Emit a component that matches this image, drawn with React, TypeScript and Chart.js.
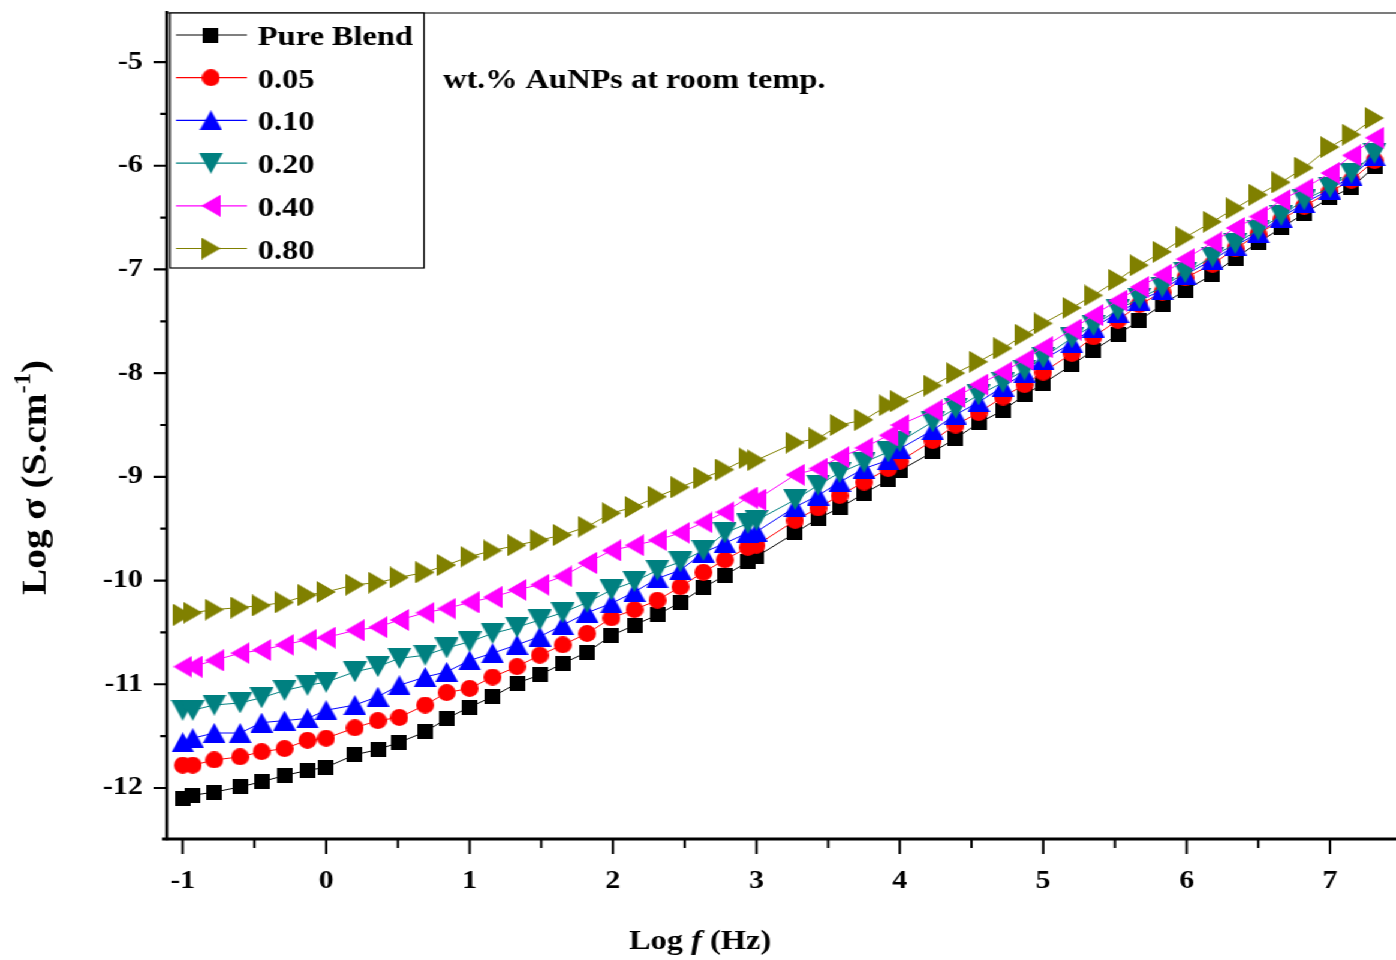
import React, { useEffect, useRef } from "react";
import { Chart, registerables } from "chart.js";

Chart.register(...registerables);

// ---------------- data ----------------
const logF = [
  -1, -0.93, -0.78, -0.6, -0.45, -0.29, -0.13, 0, 0.2, 0.36,
  0.51, 0.69, 0.84, 1.0, 1.16, 1.33, 1.49, 1.65, 1.82, 1.99,
  2.15, 2.31, 2.47, 2.63, 2.78, 2.94, 3.0, 3.27, 3.43, 3.58,
  3.75, 3.92, 4.0, 4.23, 4.39, 4.55, 4.72, 4.87, 5.0, 5.2,
  5.35, 5.52, 5.67, 5.83, 5.99, 6.18, 6.34, 6.5, 6.66, 6.82,
  7.0, 7.15, 7.31,
];

const pureBlend = [
  -12.1, -12.07, -12.04, -11.99, -11.94, -11.88, -11.83, -11.8, -11.68, -11.63,
  -11.56, -11.46, -11.33, -11.22, -11.12, -10.99, -10.91, -10.8, -10.69, -10.53,
  -10.43, -10.33, -10.21, -10.07, -9.95, -9.82, -9.77, -9.54, -9.4, -9.3,
  -9.16, -9.03, -8.94, -8.76, -8.63, -8.48, -8.36, -8.21, -8.1, -7.92,
  -7.78, -7.63, -7.49, -7.34, -7.2, -7.05, -6.89, -6.74, -6.6, -6.46,
  -6.31, -6.21, -6.01,
];

const au005 = [
  -11.78, -11.78, -11.73, -11.7, -11.65, -11.62, -11.54, -11.52, -11.42, -11.35,
  -11.32, -11.2, -11.08, -11.04, -10.93, -10.83, -10.72, -10.62, -10.51, -10.36,
  -10.28, -10.19, -10.06, -9.92, -9.8, -9.68, -9.66, -9.42, -9.3, -9.18,
  -9.05, -8.92, -8.85, -8.65, -8.5, -8.38, -8.23, -8.11, -7.99, -7.81,
  -7.65, -7.49, -7.34, -7.22, -7.08, -6.95, -6.8, -6.66, -6.52, -6.39,
  -6.25, -6.14, -5.95,
];

const au010 = [
  -11.56, -11.52, -11.47, -11.47, -11.37, -11.35, -11.33, -11.25, -11.2, -11.12,
  -11.01, -10.93, -10.88, -10.77, -10.7, -10.62, -10.54, -10.43, -10.31, -10.22,
  -10.11, -9.98, -9.9, -9.73, -9.64, -9.54, -9.53, -9.29, -9.18, -9.05,
  -8.92, -8.84, -8.73, -8.55, -8.4, -8.28, -8.13, -8.0, -7.87, -7.71,
  -7.56, -7.42, -7.3, -7.2, -7.05, -6.91, -6.77, -6.65, -6.5, -6.36,
  -6.23, -6.1, -5.91,
];

const au020 = [
  -11.25, -11.25, -11.2, -11.18, -11.13, -11.06, -11.01, -10.98, -10.88, -10.83,
  -10.75, -10.72, -10.65, -10.59, -10.51, -10.45, -10.38, -10.31, -10.21, -10.09,
  -10.01, -9.9, -9.82, -9.71, -9.54, -9.45, -9.42, -9.22, -9.08, -8.96,
  -8.86, -8.76, -8.66, -8.47, -8.34, -8.21, -8.09, -7.97, -7.85, -7.66,
  -7.54, -7.39, -7.28, -7.17, -7.03, -6.88, -6.75, -6.62, -6.48, -6.33,
  -6.21, -6.07, -5.88,
];

const au040 = [
  -10.83, -10.83, -10.77, -10.7, -10.67, -10.62, -10.57, -10.55, -10.48, -10.45,
  -10.38, -10.31, -10.27, -10.21, -10.16, -10.09, -10.04, -9.96, -9.83, -9.71,
  -9.66, -9.61, -9.54, -9.44, -9.34, -9.2, -9.22, -8.98, -8.92, -8.81,
  -8.72, -8.6, -8.5, -8.36, -8.23, -8.11, -7.99, -7.87, -7.75, -7.58,
  -7.44, -7.3, -7.17, -7.05, -6.9, -6.74, -6.6, -6.49, -6.33, -6.22,
  -6.07, -5.9, -5.73,
];

const au080 = [
  -10.33, -10.31, -10.28, -10.26, -10.24, -10.21, -10.14, -10.11, -10.04, -10.02,
  -9.97, -9.92, -9.85, -9.77, -9.71, -9.66, -9.61, -9.56, -9.48, -9.35,
  -9.29, -9.19, -9.1, -9.01, -8.93, -8.82, -8.84, -8.67, -8.63, -8.5,
  -8.45, -8.31, -8.27, -8.12, -8.0, -7.89, -7.76, -7.63, -7.52, -7.37,
  -7.25, -7.1, -6.96, -6.83, -6.69, -6.54, -6.41, -6.28, -6.16, -6.02,
  -5.82, -5.7, -5.54,
];

const seriesNames = ["Pure Blend", "0.05", "0.10", "0.20", "0.40", "0.80"];
const seriesValues = [pureBlend, au005, au010, au020, au040, au080];
const seriesColors = ["#000000", "#FF0000", "#0000FF", "#008080", "#FF00FF", "#808000"];
const seriesShapes = ["square", "circle", "up", "down", "left", "right"];

const xMajorTicks = [-1, 0, 1, 2, 3, 4, 5, 6, 7];
const xMinorTicks = [-0.5, 0.5, 1.5, 2.5, 3.5, 4.5, 5.5, 6.5];
const yMajorTicks = [-12, -11, -10, -9, -8, -7, -6, -5];
const yMinorTicks = [-11.5, -10.5, -9.5, -8.5, -7.5, -6.5, -5.5];

const xTitleParts = ["Log ", "f", " (Hz)"];
const yTitleMain = "Log σ (S.cm";
const yTitleSup = "-1";
const yTitleEnd = ")";
const annotationText = "wt.% AuNPs at room temp.";

// ---------------- layout helpers ----------------
const INNER_W = 1164;
const S = 1396 / INNER_W; // horizontal stretch of the whole figure
const FONT = '"Liberation Serif", "Times New Roman", serif';

function makeMarker(shape: string, color: string): HTMLCanvasElement {
  const sizes: Record<string, [number, number]> = {
    square: [13, 15],
    circle: [15, 17],
    up: [19, 20],
    down: [20, 21],
    left: [16, 22],
    right: [16, 22],
  };
  const [w, h] = sizes[shape];
  const c = document.createElement("canvas");
  c.width = w;
  c.height = h;
  const g = c.getContext("2d")!;
  g.fillStyle = color;
  g.beginPath();
  if (shape === "square") g.rect(0, 0, w, h);
  else if (shape === "circle") g.ellipse(w / 2, h / 2, w / 2, h / 2, 0, 0, Math.PI * 2);
  else if (shape === "up") { g.moveTo(w / 2, 0); g.lineTo(w, h); g.lineTo(0, h); }
  else if (shape === "down") { g.moveTo(0, 0); g.lineTo(w, 0); g.lineTo(w / 2, h); }
  else if (shape === "left") { g.moveTo(0, h / 2); g.lineTo(w, 0); g.lineTo(w, h); }
  else { g.moveTo(w, h / 2); g.lineTo(0, 0); g.lineTo(0, h); }
  g.closePath();
  g.fill();
  return c;
}

const decorPlugin = {
  id: "decor",
  afterDraw(chart: any) {
    const ctx: CanvasRenderingContext2D = chart.ctx;
    const { left, right, top, bottom } = chart.chartArea;
    const xs = chart.scales.x;
    const ys = chart.scales.y;
    ctx.save();

    // top frame line
    ctx.strokeStyle = "#505050";
    ctx.lineWidth = 1.5;
    ctx.beginPath();
    ctx.moveTo(left, top);
    ctx.lineTo(right, top);
    ctx.stroke();

    // axis lines
    ctx.strokeStyle = "#000";
    ctx.lineWidth = 2.5;
    ctx.beginPath();
    ctx.moveTo(left, top - 2);
    ctx.lineTo(left, bottom + 1.2);
    ctx.stroke();
    ctx.lineWidth = 3;
    ctx.beginPath();
    ctx.moveTo(left - 4, bottom);
    ctx.lineTo(right, bottom);
    ctx.stroke();

    // ticks
    ctx.lineWidth = 2;
    ctx.beginPath();
    for (const v of xMajorTicks) {
      const p = xs.getPixelForValue(v);
      ctx.moveTo(p, bottom);
      ctx.lineTo(p, bottom + 15);
    }
    for (const v of xMinorTicks) {
      const p = xs.getPixelForValue(v);
      ctx.moveTo(p, bottom);
      ctx.lineTo(p, bottom + 9);
    }
    ctx.stroke();
    ctx.lineWidth = 2.2;
    ctx.beginPath();
    for (const v of yMajorTicks) {
      const p = ys.getPixelForValue(v);
      ctx.moveTo(left, p);
      ctx.lineTo(left - 11, p);
    }
    for (const v of yMinorTicks) {
      const p = ys.getPixelForValue(v);
      ctx.moveTo(left, p);
      ctx.lineTo(left - 5.5, p);
    }
    ctx.stroke();

    // legend box
    const lx0 = 170 / S, lx1 = 424 / S, ly0 = 13, ly1 = 268;
    ctx.fillStyle = "#fff";
    ctx.fillRect(lx0, ly0, lx1 - lx0, ly1 - ly0);
    ctx.strokeStyle = "#000";
    ctx.lineWidth = 1.2;
    ctx.strokeRect(lx0, ly0, lx1 - lx0, ly1 - ly0);
    ctx.font = `bold 27px ${FONT}`;
    ctx.textAlign = "left";
    ctx.textBaseline = "alphabetic";
    chart.data.datasets.forEach((ds: any, i: number) => {
      const cy = 35 + i * 42.7;
      ctx.strokeStyle = ds.borderColor;
      ctx.lineWidth = 1.2;
      ctx.beginPath();
      ctx.moveTo(176 / S, cy);
      ctx.lineTo(247 / S, cy);
      ctx.stroke();
      const m = ds.pointStyle as HTMLCanvasElement;
      ctx.drawImage(m, 211 / S - m.width / 2, cy - m.height / 2);
      ctx.fillStyle = "#000";
      ctx.fillText(ds.label, 258 / S, cy + 10);
    });

    // annotation
    ctx.fillStyle = "#000";
    ctx.font = `bold 27px ${FONT}`;
    ctx.fillText(annotationText, 443 / S, 88);

    // x title
    const fonts = [`bold 27px ${FONT}`, `italic bold 27px ${FONT}`, `bold 27px ${FONT}`];
    let total = 0;
    const widths = xTitleParts.map((t, i) => {
      ctx.font = fonts[i];
      const w = ctx.measureText(t).width;
      total += w;
      return w;
    });
    let x = 700 / S - total / 2;
    xTitleParts.forEach((t, i) => {
      ctx.font = fonts[i];
      ctx.fillText(t, x, 949);
      x += widths[i];
    });

    // y title (rotated)
    ctx.save();
    ctx.translate(45 / S, 477.5);
    ctx.rotate(-Math.PI / 2);
    const mainFont = `bold 29px ${FONT}`;
    const supFont = `bold 18px ${FONT}`;
    ctx.font = mainFont;
    const w1 = ctx.measureText(yTitleMain).width;
    const w3 = ctx.measureText(yTitleEnd).width;
    ctx.font = supFont;
    const w2 = ctx.measureText(yTitleSup).width;
    const natural = w1 + w2 + w3;
    const k = 235 / natural;
    ctx.scale(k, 1);
    let tx = -natural / 2;
    ctx.font = mainFont;
    ctx.fillText(yTitleMain, tx, 0);
    tx += w1;
    ctx.font = supFont;
    ctx.fillText(yTitleSup, tx, -13);
    tx += w2;
    ctx.font = mainFont;
    ctx.fillText(yTitleEnd, tx, 0);
    ctx.restore();

    ctx.restore();
  },
};

export default function App() {
  const ref = useRef<HTMLCanvasElement>(null);

  useEffect(() => {
    const canvas = ref.current;
    if (!canvas) return;
    const datasets = seriesNames.map((name, i) => ({
      label: name,
      data: logF.map((x, j) => ({ x, y: seriesValues[i][j] })),
      borderColor: seriesColors[i],
      backgroundColor: seriesColors[i],
      borderWidth: 1,
      pointStyle: makeMarker(seriesShapes[i], seriesColors[i]),
      pointRadius: 8,
      pointHoverRadius: 8,
      tension: 0,
      order: seriesNames.length - i,
    }));

    const chart = new Chart(canvas, {
      type: "line",
      data: { datasets } as any,
      options: {
        animation: false,
        responsive: true,
        maintainAspectRatio: false,
        layout: { padding: { top: 13, left: 0, right: 0, bottom: 0 }, autoPadding: false },
        plugins: { legend: { display: false }, tooltip: { enabled: false } },
        events: [],
        scales: {
          x: {
            type: "linear",
            min: -1.112,
            max: 7.46,
            grid: { display: false, drawTicks: false },
            border: { display: false },
            ticks: {
              stepSize: 1,
              includeBounds: false,
              padding: 28,
              color: "#000",
              font: { family: FONT, size: 25, weight: "bold" },
              callback: (v: any) => (xMajorTicks.includes(Number(v)) ? String(v) : ""),
            },
            afterFit: (s: any) => {
              s.height = 121;
              s.paddingLeft = 0;
              s.paddingRight = 0;
              s.paddingTop = 0;
              s.paddingBottom = 0;
            },
          },
          y: {
            type: "linear",
            min: -12.492,
            max: -4.527,
            grid: { display: false, drawTicks: false },
            border: { display: false },
            ticks: {
              stepSize: 1,
              includeBounds: false,
              padding: 20,
              color: "#000",
              font: { family: FONT, size: 25, weight: "bold" },
              callback: (v: any) => (yMajorTicks.includes(Number(v)) ? String(v) : ""),
            },
            afterFit: (s: any) => {
              s.width = 139;
              s.paddingLeft = 0;
              s.paddingRight = 0;
              s.paddingTop = 0;
              s.paddingBottom = 0;
            },
          },
        },
      } as any,
      plugins: [decorPlugin],
    });
    return () => chart.destroy();
  }, []);

  return (
    <div
      style={{
        position: "absolute",
        left: 0,
        top: 0,
        width: INNER_W,
        height: 960,
        transform: `scaleX(${S})`,
        transformOrigin: "0 0",
        background: "#fff",
      }}
    >
      <canvas ref={ref} />
    </div>
  );
}
